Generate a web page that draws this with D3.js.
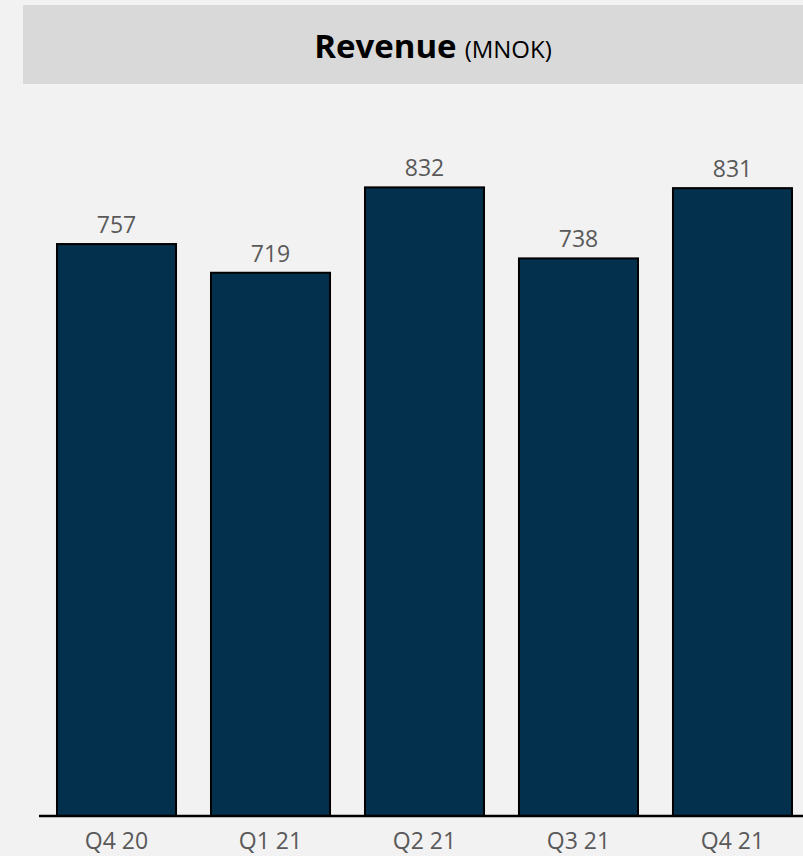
<!DOCTYPE html>
<html>
  <head>
    <meta charset="utf-8">
    <title>Revenue</title>
    <style>
      body { margin: 0; background: #f2f2f2; }
      svg { display: block; font-family: 'Open Sans', sans-serif; }
    </style>
  </head>
  <body>
    <div id="chart"></div>
    <script src="https://cdnjs.cloudflare.com/ajax/libs/d3/7.8.5/d3.min.js"></script>
    <script>
const quarters = ['Q4 20', 'Q1 21', 'Q2 21', 'Q3 21', 'Q4 21'],
      revenue = [757, 719, 832, 738, 831];

const width = 803, height = 856,
      baseY = 816;

const svg = d3.select('#chart').append('svg')
  .attr('width', width)
  .attr('height', height);

svg.append('rect')
  .attr('width', width).attr('height', height)
  .attr('fill', '#f2f2f2');

// title banner
svg.append('rect')
  .attr('x', 23).attr('y', 5)
  .attr('width', width - 23).attr('height', 79)
  .attr('fill', '#d9d9d9');

const title = svg.append('text')
  .attr('x', 433).attr('y', 58)
  .attr('text-anchor', 'middle')
  .attr('fill', '#000');
title.append('tspan')
  .attr('font-weight', 'bold')
  .attr('font-size', 33)
  .text('Revenue');
title.append('tspan')
  .attr('font-size', 24)
  .attr('dx', 8)
  .text('(MNOK)');

const x = d3.scaleBand()
  .domain(quarters)
  .range([39.5, 809.5])
  .paddingInner(0.227)
  .paddingOuter(0.1136);

const y = d3.scaleLinear()
  .domain([0, 900])
  .range([baseY, 136]);

const data = quarters.map((q, i) => ({ q, v: revenue[i] }));

svg.append('g')
  .selectAll('rect')
  .data(data)
  .enter()
  .append('rect')
    .attr('x', d => x(d.q))
    .attr('y', d => y(d.v))
    .attr('width', x.bandwidth())
    .attr('height', d => baseY - y(d.v))
    .attr('fill', '#03304d')
    .attr('stroke', '#000')
    .attr('stroke-width', 2);

svg.append('g')
  .selectAll('text')
  .data(data)
  .enter()
  .append('text')
    .attr('x', d => x(d.q) + x.bandwidth() / 2)
    .attr('y', d => y(d.v) - 11)
    .attr('text-anchor', 'middle')
    .attr('font-size', 23)
    .attr('fill', '#595959')
    .text(d => d.v);

// x axis
const xAxis = svg.append('g')
  .attr('transform', `translate(0,${baseY})`)
  .call(d3.axisBottom(x).tickSize(0).tickPadding(17));
xAxis.select('.domain').remove();
xAxis.selectAll('text')
  .attr('font-family', "'Open Sans', sans-serif")
  .attr('font-size', 23)
  .attr('fill', '#595959');

svg.append('line')
  .attr('x1', 39).attr('x2', width)
  .attr('y1', baseY).attr('y2', baseY)
  .attr('stroke', '#000')
  .attr('stroke-width', 2.5);
    </script>
  </body>
</html>
